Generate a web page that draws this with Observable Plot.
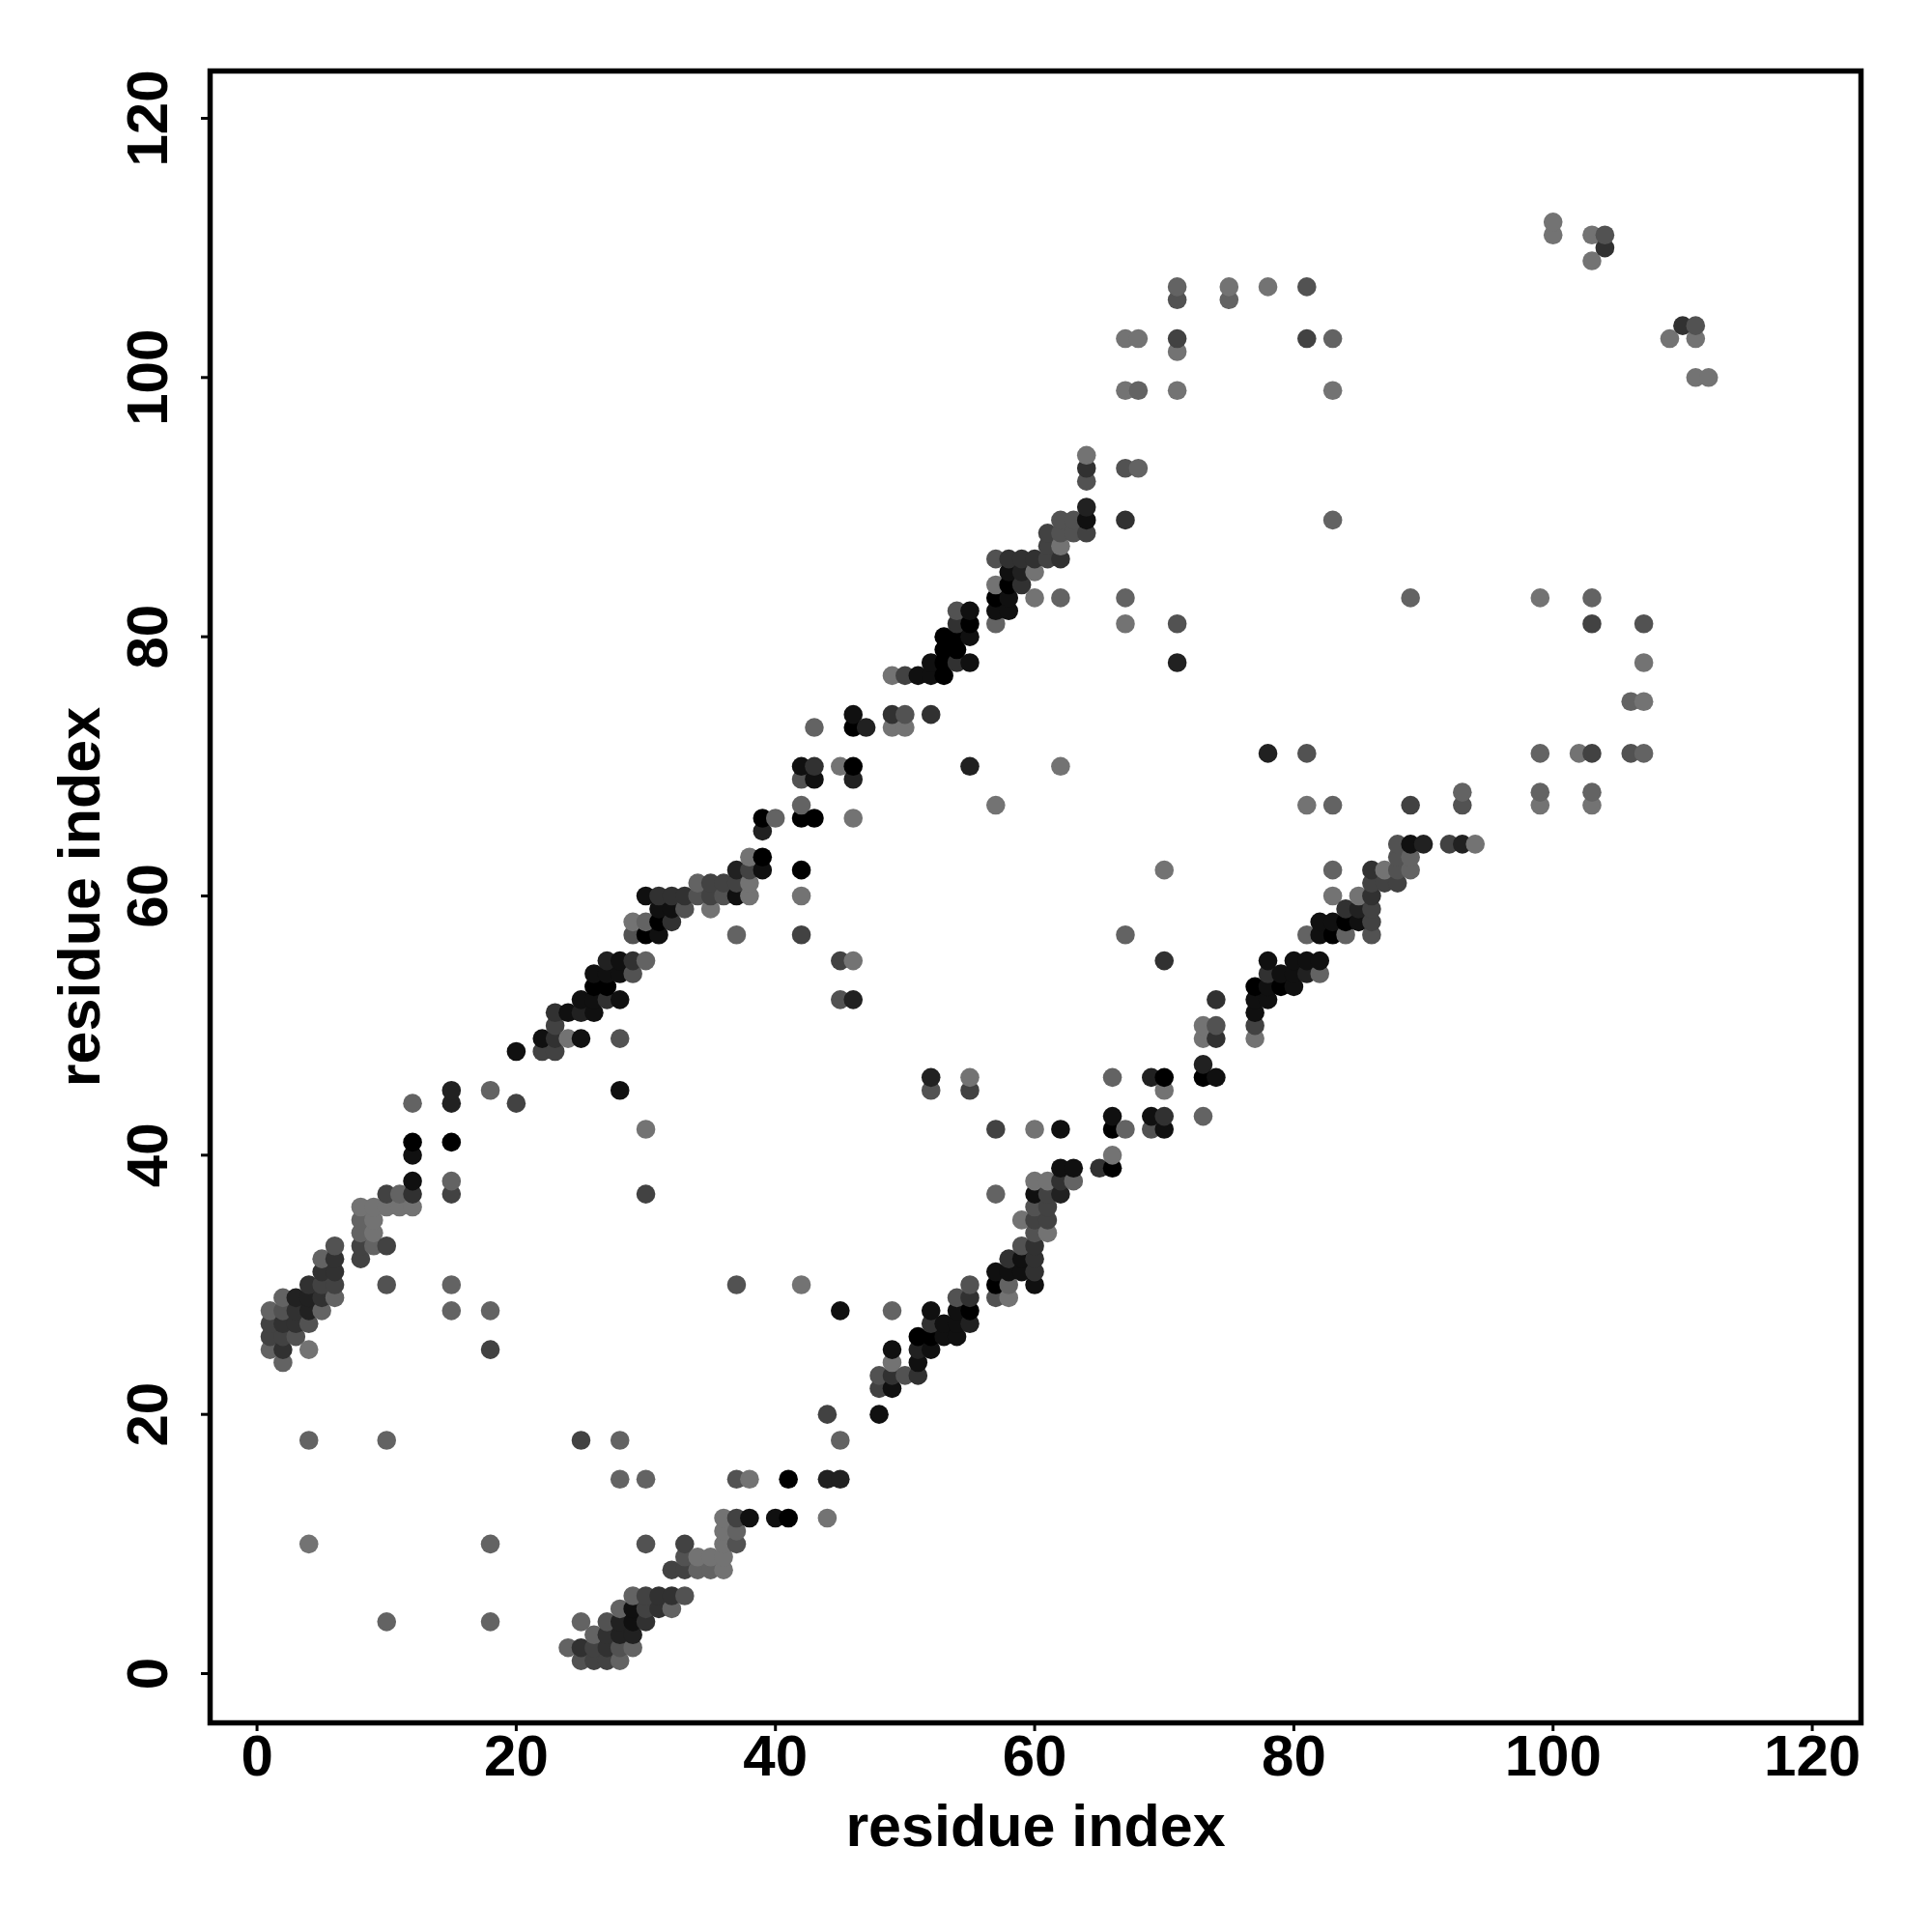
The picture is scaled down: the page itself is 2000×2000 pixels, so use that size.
<!DOCTYPE html>
<html>
<head>
<meta charset="utf-8">
<script src="https://cdn.jsdelivr.net/npm/d3@7"></script>
<script src="https://cdn.jsdelivr.net/npm/@observablehq/plot@0.6"></script>
<style>
  html, body { margin: 0; padding: 0; background: #ffffff; }
</style>
</head>
<body>
<div id="chart"></div>
<script>
// Contact map: [residue i, residue j, contact strength 0 (weak, light) .. 7 (strong, black)]
const nearBlock = [
  [1,25,1],[1,26,3],[1,27,3],[1,28,1],
  [2,24,1],[2,25,4],[2,26,3],[2,27,4],[2,28,2],[2,29,1],
  [3,26,2],[3,27,4],[3,28,4],[3,29,5],
  [4,10,0],[4,18,1],[4,25,0],[4,27,2],[4,28,5],[4,29,5],[4,30,4],
  [5,28,1],[5,29,4],[5,30,3],[5,31,4],[5,32,1],
  [6,29,1],[6,30,3],[6,31,4],[6,32,4],[6,33,2],
  [8,32,3],[8,33,3],[8,34,1],[8,35,1],[8,36,0],
  [9,33,1],[9,34,0],[9,35,0],[9,36,0],
  [10,4,1],[10,18,1],[10,30,2],[10,33,3],[10,36,0],[10,37,3],
  [11,36,0],[11,37,1],
  [12,36,0],[12,37,4],[12,38,6],[12,40,6],[12,41,7],[12,44,1],
  [15,28,1],[15,30,1],[15,37,3],[15,38,1],[15,41,7],[15,44,5],[15,45,5],
  [18,4,1],[18,10,1],[18,25,3],[18,28,1],[18,45,1],
  [20,44,3],[20,48,6],
  [22,48,3],[22,49,6],
  [23,48,3],[23,49,4],[23,50,3],[23,51,4],
  [24,2,1],[24,49,0],[24,51,6],
  [25,1,2],[25,2,4],[25,4,1],[25,18,3],[25,49,6],[25,51,5],[25,52,6],
  [26,1,3],[26,2,3],[26,3,1],[26,51,6],[26,52,6],[26,53,7],[26,54,6],
  [27,1,3],[27,2,4],[27,3,4],[27,4,2],[27,52,4],[27,53,7],[27,54,6],[27,55,5],
  [28,1,1],[28,2,2],[28,3,5],[28,4,5],[28,5,1],[28,15,1],[28,18,1],[28,45,6],[28,49,2],[28,52,6],[28,54,6],[28,55,6]
];

const midBlock = [
  [29,2,1],[29,3,5],[29,4,6],[29,5,6],[29,6,1],[29,54,2],[29,55,4],[29,57,2],[29,58,0],
  [30,4,4],[30,5,3],[30,6,3],[30,10,2],[30,15,1],[30,37,3],[30,42,0],[30,55,1],[30,57,7],[30,58,1],[30,60,6],
  [31,5,4],[31,6,4],[31,57,6],[31,58,7],[31,59,6],[31,60,4],
  [32,5,1],[32,6,4],[32,8,3],[32,58,4],[32,59,6],[32,60,4],
  [33,6,2],[33,8,3],[33,9,2],[33,10,3],[33,59,2],[33,60,4],
  [34,8,1],[34,9,0],[34,60,2],[34,61,1],
  [35,8,1],[35,9,0],[35,59,0],[35,60,3],[35,61,3],
  [36,8,0],[36,9,0],[36,10,0],[36,11,0],[36,12,0],[36,60,2],[36,61,3],
  [37,10,2],[37,11,1],[37,12,3],[37,15,2],[37,30,2],[37,57,1],[37,60,6],[37,61,3],[37,62,5],
  [38,12,6],[38,15,0],[38,60,0],[38,61,0],[38,62,3],[38,63,0],
  [39,62,6],[39,63,7],[39,65,5],[39,66,7],
  [40,12,6],[40,66,1],
  [41,12,7],[41,15,7],
  [42,30,0],[42,57,3],[42,60,0],[42,62,7],[42,66,7],[42,67,1],[42,69,2],[42,70,6],
  [43,66,7],[43,69,6],[43,70,4],[43,73,1],
  [44,12,0],[44,15,5],[44,20,3],
  [45,15,5],[45,18,1],[45,28,6],[45,52,2],[45,55,3],[45,70,0],
  [46,52,5],[46,55,0],[46,66,0],[46,69,5],[46,70,7],[46,73,7],[46,74,6],
  [47,73,5],
  [48,20,6],[48,22,3],[48,23,2],
  [49,22,6],[49,23,4],[49,24,0],[49,25,6],[49,28,1],[49,73,0],[49,74,4],[49,77,0],
  [50,23,2],[50,73,0],[50,74,2],[50,77,3],
  [51,23,4],[51,24,6],[51,25,5],[51,26,7],[51,77,6],
  [52,25,6],[52,26,7],[52,27,4],[52,28,6],[52,45,2],[52,46,5],[52,74,4],[52,77,6],[52,78,6],
  [53,26,6],[53,27,6],[53,77,7],[53,78,7],[53,79,7],[53,80,7],
  [54,26,6],[54,27,6],[54,28,6],[54,29,2],[54,78,4],[54,79,7],[54,80,7],[54,81,4],[54,82,2],
  [55,27,5],[55,28,7],[55,29,4],[55,30,2],[55,45,3],[55,46,0],[55,70,5],[55,78,6],[55,80,6],[55,81,7],[55,82,6],
  [57,29,2],[57,30,7],[57,31,6],[57,37,1],[57,42,3],[57,67,0],[57,81,1],[57,82,6],[57,83,7],[57,84,0],[57,86,2],
  [58,29,0],[58,30,1],[58,31,6],[58,32,4],[58,82,6],[58,83,6],[58,84,7],[58,85,6],[58,86,4]
];

const farBlock = [
  [59,31,6],[59,32,6],[59,33,2],[59,35,0],[59,84,4],[59,85,5],[59,86,4],
  [60,30,6],[60,31,4],[60,32,4],[60,33,4],[60,34,2],[60,35,3],[60,36,2],[60,37,6],[60,38,0],[60,42,0],[60,83,0],[60,85,0],[60,86,4],
  [61,34,0],[61,35,3],[61,36,3],[61,37,3],[61,38,0],[61,86,3],[61,87,3],[61,88,3],
  [62,37,5],[62,38,4],[62,39,6],[62,42,6],[62,70,0],[62,83,1],[62,86,4],[62,87,0],[62,88,2],[62,89,2],
  [63,38,1],[63,39,6],[63,88,2],[63,89,2],
  [64,88,3],[64,89,6],[64,90,5],[64,92,2],[64,93,4],[64,94,0],
  [65,39,4],
  [66,39,7],[66,40,0],[66,42,7],[66,43,6],[66,46,1],
  [67,42,1],[67,57,1],[67,81,0],[67,83,1],[67,89,4],[67,93,2],[67,99,0],[67,103,0],
  [68,93,1],[68,99,1],[68,103,0],
  [69,42,2],[69,43,6],[69,46,5],
  [70,42,6],[70,43,4],[70,45,0],[70,46,7],[70,55,4],[70,62,0],
  [71,78,5],[71,81,2],[71,99,0],[71,102,0],[71,103,3],[71,106,2],[71,107,1],
  [73,43,1],[73,46,7],[73,47,5],[73,49,0],[73,50,0],
  [74,46,6],[74,49,4],[74,50,2],[74,52,4],
  [75,106,1],[75,107,0],
  [77,49,0],[77,50,3],[77,51,6],[77,52,6],[77,53,7],
  [78,52,6],[78,53,6],[78,54,4],[78,55,6],[78,71,5],[78,107,0],
  [79,53,7],[79,54,6],
  [80,53,6],[80,54,6],[80,55,6],
  [81,54,5],[81,55,6],[81,57,1],[81,67,0],[81,71,2],[81,103,3],[81,107,2],
  [82,54,1],[82,55,6],[82,57,6],[82,58,6],
  [83,57,7],[83,58,6],[83,60,0],[83,62,1],[83,67,1],[83,89,1],[83,99,0],[83,103,1],
  [84,57,1],[84,58,7],[84,59,4],
  [85,58,6],[85,59,5],[85,60,0],
  [86,57,2],[86,58,3],[86,59,3],[86,60,4],[86,61,3],[86,62,4],
  [87,61,3],[87,62,0],
  [88,61,3],[88,62,2],[88,63,2],[88,64,2],
  [89,62,1],[89,63,1],[89,64,6],[89,67,3],[89,83,1],
  [90,64,5],
  [92,64,3],
  [93,64,5],[93,67,2],[93,68,1],
  [94,64,0],
  [99,67,0],[99,68,1],[99,71,1],[99,83,0],
  [100,111,0],[100,112,0],
  [102,71,0],
  [103,67,0],[103,68,1],[103,71,3],[103,81,3],[103,83,1],[103,109,0],[103,111,0],
  [104,110,4],[104,111,2],
  [106,71,2],[106,75,1],
  [107,71,1],[107,75,0],[107,78,0],[107,81,2],
  [109,103,0],
  [110,104,4],
  [111,100,0],[111,103,0],[111,104,2],
  [112,100,0]
];

const xTicks = [0, 20, 40, 60, 80, 100, 120];
const yTicks = [0, 20, 40, 60, 80, 100, 120];
const xTitle = "residue index";
const yTitle = "residue index";

const contacts = [...nearBlock, ...midBlock, ...farBlock].map(([i, j, s]) => ({i, j, s}));

const font = "'Liberation Sans', Arial, Helvetica, sans-serif";

const chart = Plot.plot({
  width: 2000,
  height: 2000,
  marginLeft: 217,
  marginRight: 74,
  marginTop: 73,
  marginBottom: 217,
  style: {fontFamily: font, fontWeight: "bold", fontSize: "60px", background: "#ffffff", color: "#000000"},
  x: {domain: [-3.62, 123.76], label: null},
  y: {domain: [-3.8, 123.65], label: null},
  color: {type: "linear", domain: [0, 7], range: ["#737373", "#000000"], interpolate: "rgb"},
  marks: [
    Plot.dot(contacts, {x: "i", y: "j", r: 9.8, fill: "s", stroke: null}),
    Plot.frame({stroke: "#000000", strokeWidth: 5.5}),
    Plot.axisX(xTicks, {tickSize: 9, tickPadding: 3, strokeWidth: 3, fontSize: 60, fontWeight: "bold", label: null}),
    Plot.axisY(yTicks, {tickSize: 9, tickPadding: 36, tickRotate: -90, strokeWidth: 3, fontSize: 60, fontWeight: "bold", label: null}),
    Plot.text([xTitle], {text: d => d, frameAnchor: "bottom", dy: 127, lineAnchor: "bottom", textAnchor: "middle", fontSize: 61, fontWeight: "bold"}),
    Plot.text([yTitle], {text: d => d, frameAnchor: "left", dx: -115, rotate: -90, lineAnchor: "bottom", textAnchor: "middle", fontSize: 61, fontWeight: "bold"})
  ]
});

document.getElementById("chart").appendChild(chart);
</script>
</body>
</html>
